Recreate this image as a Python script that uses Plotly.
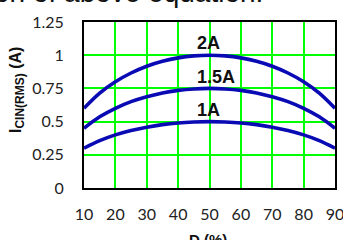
import plotly.graph_objects as go

duty = [10, 15, 20, 25, 30, 35, 40, 45, 50, 55, 60, 65, 70, 75, 80, 85, 90]
i_1a = [0.300, 0.357, 0.400, 0.433, 0.458, 0.477, 0.490, 0.497, 0.500, 0.497, 0.490, 0.477, 0.458, 0.433, 0.400, 0.357, 0.300]
i_15a = [0.450, 0.536, 0.600, 0.650, 0.687, 0.716, 0.735, 0.746, 0.750, 0.746, 0.735, 0.716, 0.687, 0.650, 0.600, 0.536, 0.450]
i_2a = [0.600, 0.714, 0.800, 0.866, 0.917, 0.954, 0.980, 0.995, 1.000, 0.995, 0.980, 0.954, 0.917, 0.866, 0.800, 0.714, 0.600]
x_ticks = [10, 20, 30, 40, 50, 60, 70, 80, 90]
y_ticks = [0, 0.25, 0.5, 0.75, 1, 1.25]
y_tick_text = ["0", "0.25", "0.5", "0.75", "1", "1.25"]
series = [("1A", i_1a), ("1.5A", i_15a), ("2A", i_2a)]
label_y = {"1A": 0.59, "1.5A": 0.836, "2A": 1.09}

# plot area on screen spans x 84..335, y 22..188 (page body margin removed below)
L, R, T, B = 84, 8, 22, 52
PW, PH = 343 - L - R, 240 - T - B


def px(x):
    return (x - L) / PW


def py(y):
    return (240 - B - y) / PH


fig = go.Figure()
for name, vals in series:
    fig.add_trace(go.Scatter(x=duty, y=vals, mode="lines", name=name,
                             line=dict(color="#0a0ab4", width=3.6, shape="spline"),
                             showlegend=False, cliponaxis=False))
    fig.add_annotation(x=45.5, y=label_y[name], text="<b>%s</b>" % name, showarrow=False,
                       xanchor="left", yanchor="middle",
                       font=dict(family="Liberation Sans, Arial", size=18, color="#111111"))

# cropped document text above the chart
fig.add_annotation(xref="paper", yref="paper", x=px(265), y=1 + 12 / PH,
                   xanchor="right", yanchor="bottom", text="tion of above equation.",
                   showarrow=False,
                   font=dict(family="Liberation Sans, Arial", size=28, color="#111111"))

# axis titles
fig.add_annotation(xref="paper", yref="paper", x=px(17), y=py(90),
                   xanchor="center", yanchor="middle", textangle=-90, showarrow=False,
                   text="<b>I<sub><span style='font-size:12px'>CIN(RMS)</span></sub> (A)</b>",
                   font=dict(family="Liberation Sans, Arial", size=16, color="#111111"))
fig.add_annotation(xref="paper", yref="paper", x=px(208), y=py(229),
                   xanchor="center", yanchor="top", showarrow=False,
                   text="<b>D (%)</b>",
                   font=dict(family="Liberation Sans, Arial", size=15, color="#111111"))

axis_common = dict(showgrid=True, gridcolor="#00ff00", gridwidth=1.6,
                   showline=True, linecolor="black", linewidth=2, mirror=True,
                   zeroline=False, ticks="", ticklen=0, automargin=False,
                   ticklabeloverflow="allow",
                   tickfont=dict(family="Lato, Open Sans", size=16, color="#222222"))
fig.update_xaxes(range=[10, 90], tickvals=x_ticks, ticktext=[str(v) for v in x_ticks],
                 ticklabelstandoff=11, **axis_common)
fig.update_yaxes(range=[0, 1.25], tickvals=y_ticks, ticktext=y_tick_text,
                 ticklabelstandoff=15, **axis_common)

fig.update_layout(width=343, height=240, margin=dict(l=L, r=R, t=T, b=B),
                  paper_bgcolor="white", plot_bgcolor="white")
fig.write_html("out.html", config={"displayModeBar": False},
               post_script="document.body.style.margin='0';document.body.style.overflow='hidden';")
